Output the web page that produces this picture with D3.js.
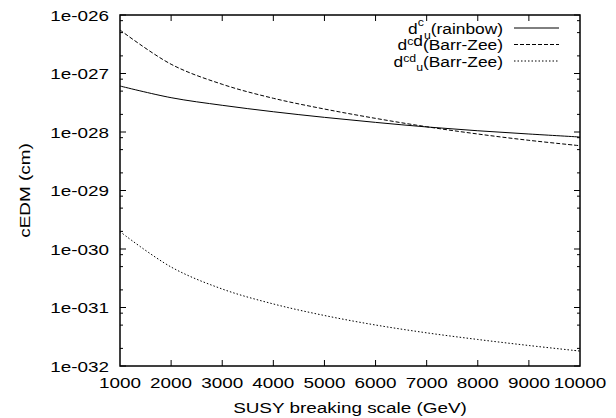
<!DOCTYPE html>
<html>
<head>
<meta charset="utf-8">
<script src="https://cdn.jsdelivr.net/npm/d3@7"></script>
<style>
  body { margin: 0; background: #fff; }
  text { font-family: "Liberation Sans", Arial, sans-serif; }
</style>
</head>
<body>
<div id="renderDiv"></div>
<script>
// SUSY breaking scale (GeV)
const scales = [1000, 2000, 3000, 4000, 5000, 6000, 7000, 8000, 9000, 10000];
// cEDM values (cm)
const rainbowU = [6.11e-28, 3.86e-28, 2.86e-28, 2.22e-28, 1.78e-28, 1.46e-28, 1.22e-28, 1.05e-28, 9.24e-29, 8.21e-29];
const barrZeeD = [5.54e-27, 1.44e-27, 6.54e-28, 3.77e-28, 2.47e-28, 1.71e-28, 1.23e-28, 9.24e-29, 7.21e-29, 5.83e-29];
const barrZeeU = [1.98e-30, 4.92e-31, 2.07e-31, 1.15e-31, 7.30e-32, 5.02e-32, 3.69e-32, 2.84e-32, 2.24e-32, 1.80e-32];
const xTicks = [1000, 2000, 3000, 4000, 5000, 6000, 7000, 8000, 9000, 10000];
const yTicks = [1e-26, 1e-27, 1e-28, 1e-29, 1e-30, 1e-31, 1e-32];
const yTickLabels = ["1e-026", "1e-027", "1e-028", "1e-029", "1e-030", "1e-031", "1e-032"];

const W = 616, H = 418;
const margin = {left: 120, right: 36, top: 15, bottom: 52};
const pw = W - margin.left - margin.right, ph = H - margin.top - margin.bottom;
const FS = "15.5px", SX = 1.22;   // the picture's font is wider than Liberation Sans

const svg = d3.select("#renderDiv").append("svg").attr("width", W).attr("height", H);
const g = svg.append("g").attr("transform", "translate(" + margin.left + "," + margin.top + ")");

const x = d3.scaleLinear().domain([1000, 10000]).range([0, pw]);
const y = d3.scaleLog().domain([1e-32, 1e-26]).range([ph, 0]);

// text placed at (tx, ty), stretched horizontally
function wideText(parent, tx, ty, anchor, str, sx) {
    return parent.append("text")
        .attr("transform", "translate(" + tx + "," + ty + ") scale(" + (sx || SX) + ",1)")
        .attr("text-anchor", anchor).attr("font-size", FS)
        .text(str);
}

// minor ticks at 2, 5, 8 of each decade
let minor = [];
for (let e = -32; e < -26; e++) {
    [2, 5, 8].forEach(m => minor.push(m * Math.pow(10, e)));
}

const tickG = g.append("g").attr("stroke", "#000").attr("stroke-width", 1);
xTicks.slice(1, -1).forEach(t => {
    tickG.append("line").attr("x1", x(t)).attr("x2", x(t)).attr("y1", ph).attr("y2", ph - 6);
    tickG.append("line").attr("x1", x(t)).attr("x2", x(t)).attr("y1", 0).attr("y2", 6);
});
yTicks.forEach(t => {
    tickG.append("line").attr("x1", 0).attr("x2", 6).attr("y1", y(t)).attr("y2", y(t));
    tickG.append("line").attr("x1", pw).attr("x2", pw - 6).attr("y1", y(t)).attr("y2", y(t));
});
minor.forEach(t => {
    tickG.append("line").attr("x1", 0).attr("x2", 3).attr("y1", y(t)).attr("y2", y(t));
    tickG.append("line").attr("x1", pw).attr("x2", pw - 3).attr("y1", y(t)).attr("y2", y(t));
});

// tick labels
xTicks.forEach(t => wideText(g, x(t), ph + 22, "middle", t));
yTicks.forEach((t, i) => wideText(g, -11, y(t) + 5.5, "end", yTickLabels[i]));

// curves
const line = d3.line()
    .x((d, i) => x(scales[i]))
    .y(d => y(d))
    .curve(d3.curveCatmullRom.alpha(0.5));

const series = [
    {vals: rainbowU, dash: null},
    {vals: barrZeeD, dash: "4,2"},
    {vals: barrZeeU, dash: "1.5,2"}
];
series.forEach(s => {
    g.append("path").datum(s.vals)
        .attr("d", line)
        .attr("fill", "none")
        .attr("stroke", "#000")
        .attr("stroke-width", 1)
        .attr("stroke-dasharray", s.dash);
});

// frame
g.append("rect").attr("x", 0).attr("y", 0).attr("width", pw).attr("height", ph)
    .attr("fill", "none").attr("stroke", "#000").attr("stroke-width", 1.5);

// axis titles
wideText(svg, margin.left + pw / 2, 413, "middle", "SUSY breaking scale (GeV)");
svg.append("text")
    .attr("transform", "translate(30," + (margin.top + ph / 2) + ") rotate(-90) scale(" + SX + ",1)")
    .attr("text-anchor", "middle").attr("font-size", FS)
    .text("cEDM (cm)");

// legend
const legend = svg.append("g");
const legRows = [
    {y: 28, dash: null, parts: [["d", 0, 15.5], ["c", -8, 11], ["u", 13, 11], ["(rainbow)", -5, 15.5]]},
    {y: 44.5, dash: "4,2", parts: [["d", 0, 15.5], ["c", -5, 11], ["d", 1, 15.5], ["(Barr-Zee)", 4, 15.5]]},
    {y: 61, dash: "1.5,2", parts: [["d", 0, 15.5], ["cd", -5, 11], ["u", 9, 11], ["(Barr-Zee)", -4, 15.5]]}
];
legRows.forEach(r => {
    const t = wideText(legend, 503, r.y + 5.5, "end", null, 1.12);
    r.parts.forEach(p => {
        t.append("tspan").attr("dy", p[1]).attr("font-size", p[2] + "px").text(p[0]);
    });
    legend.append("line").attr("x1", 514).attr("x2", 559).attr("y1", r.y).attr("y2", r.y)
        .attr("stroke", "#000").attr("stroke-width", 1).attr("stroke-dasharray", r.dash);
});
</script>
</body>
</html>
